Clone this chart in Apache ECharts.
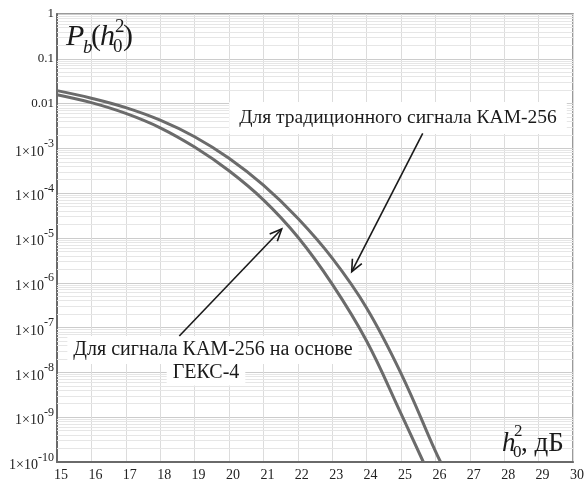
<!DOCTYPE html>
<html><head><meta charset="utf-8">
<script src="https://cdn.jsdelivr.net/npm/echarts@6/dist/echarts.min.js"></script>
<style>html,body{margin:0;padding:0;background:#fff}#c{width:587px;height:482px}</style>
</head><body><div id="c"></div>
<script>
// ---- data ----
const snrQam = [15, 16, 17, 18, 19, 20, 21, 22, 23, 24, 25, 26, 26.15];
const pbQam256 = [1.95e-2, 1.32e-2, 8.13e-3, 4.27e-3, 1.82e-3, 6.03e-4, 1.51e-4, 2.75e-5, 3.55e-6, 2.75e-7, 9.55e-9, 1.74e-10, 1e-10];
const snrHex = [15, 16, 17, 18, 19, 20, 21, 22, 23, 24, 25, 25.65];
const pbHex4 = [1.58e-2, 1.05e-2, 6.03e-3, 2.88e-3, 1.07e-3, 3.16e-4, 7.08e-5, 1.05e-5, 9.33e-7, 5.01e-8, 1.20e-9, 1e-10];
const xMin = 15, xMax = 30, xStep = 1;
const yMin = 1e-10, yMax = 1;
const yTickLabels = {0: '1', '-1': '0.1', '-2': '0.01'};
const minorMantissas = [2, 3, 4, 5, 6, 7, 8, 9];
const labelQam = 'Для традиционного сигнала КАМ-256';
const labelHex1 = 'Для сигнала КАМ-256 на основе';
const labelHex2 = 'ГЕКС-4';

const SERIF = 'Liberation Serif';
const zip = (xs, ys) => xs.map((x, i) => [x, ys[i]]);

// minor log grid positions (exponent space)
const minorExp = [];
for (let e = -10; e < 0; e++) minorMantissas.forEach(m => minorExp.push(e + Math.log10(m)));

function arrow(ax, ay, tx, ty) {
  const dx = tx - ax, dy = ty - ay, L = Math.hypot(dx, dy);
  const ux = dx / L, uy = dy / L, len = 13, a = 24 * Math.PI / 180;
  const w = s => [tx - len * (ux * Math.cos(a) - s * uy * Math.sin(a)),
                  ty - len * (uy * Math.cos(a) + s * ux * Math.sin(a))];
  return [
    {type: 'line', shape: {x1: ax, y1: ay, x2: tx, y2: ty}, style: {stroke: '#1a1a1a', lineWidth: 1.6}, z: 100},
    {type: 'polyline', shape: {points: [w(1), [tx, ty], w(-1)]}, style: {stroke: '#1a1a1a', lineWidth: 1.6, fill: null}, z: 100}
  ];
}
function txt(x, y, s, size, italic, extra) {
  return {type: 'text', z: 100, style: Object.assign({
    x: x, y: y, text: s, fontSize: size, fontFamily: SERIF, fontStyle: italic ? 'italic' : 'normal',
    fill: '#1a1a1a', verticalAlign: 'middle', align: 'left'}, extra || {})};
}

const chart = echarts.init(document.getElementById('c'), null, {renderer: 'canvas'});
chart.setOption({
  animation: false,
  backgroundColor: '#fff',
  textStyle: {fontFamily: SERIF},
  grid: {left: 57, right: 9, top: 14, bottom: 19, show: true, borderColor: '#7a7a7a', borderWidth: 1.5, backgroundColor: 'transparent'},
  xAxis: {
    type: 'value', min: xMin, max: xMax, interval: xStep,
    axisLine: {show: true, onZero: false, lineStyle: {color: '#6a6a6a', width: 2}},
    axisTick: {show: false},
    axisLabel: {margin: 6, color: '#222', fontFamily: SERIF, fontSize: 14, padding: [0, 0, 0, 8]},
    splitLine: {show: true, lineStyle: {color: '#dcdcdc', width: 1}}
  },
  yAxis: [{
    type: 'log', logBase: 10, min: yMin, max: yMax, interval: 1, splitNumber: 10,
    axisLine: {show: true, lineStyle: {color: '#6a6a6a', width: 2}},
    axisTick: {show: false},
    axisLabel: {
      margin: 3, color: '#222', fontFamily: SERIF, fontSize: 13,
      formatter: v => {
        const e = Math.round(Math.log10(v));
        if (yTickLabels[e] !== undefined) return '{n|' + yTickLabels[e] + '}';
        return '{a|1×10}{s|' + e + '}';
      },
      rich: {
        n: {fontFamily: SERIF, fontSize: 13, color: '#222'},
        a: {fontFamily: SERIF, fontSize: 14, color: '#222', verticalAlign: 'bottom', lineHeight: 21},
        s: {fontFamily: SERIF, fontSize: 12, color: '#222', verticalAlign: 'top', lineHeight: 12}
      }
    },
    splitLine: {show: true, lineStyle: {color: '#cccccc', width: 1}}
  }, {
    type: 'value', min: -10, max: 0, show: false, splitLine: {show: false}
  }],
  series: [
    {
      type: 'line', yAxisIndex: 1, data: [], silent: true, z: 1,
      markLine: {
        silent: true, symbol: 'none', animation: false, precision: 6,
        label: {show: false},
        lineStyle: {color: '#e6e6e6', width: 1, type: 'solid'},
        data: minorExp.map(v => ({yAxis: v}))
      }
    },
    {
      name: labelQam, type: 'line', data: zip(snrQam, pbQam256), smooth: 0.4,
      showSymbol: false, z: 5, lineStyle: {color: '#6b6b6b', width: 3}
    },
    {
      name: labelHex1 + ' ' + labelHex2, type: 'line', data: zip(snrHex, pbHex4), smooth: 0.4,
      showSymbol: false, z: 5, lineStyle: {color: '#6b6b6b', width: 3}
    }
  ],
  graphic: [
    // Y title P_b(h_0^2)
    txt(66, 37, 'P', 30, true),
    txt(83, 48, 'b', 19, true),
    txt(91, 37, '(', 30, false),
    txt(100, 37, 'h', 30, true),
    txt(115, 27, '2', 19, false),
    txt(113, 47, '0', 19, false),
    txt(123, 37, ')', 30, false),
    // X title h_0^2, дБ
    txt(502, 444, 'h', 27, true),
    txt(514, 432, '2', 17, false),
    txt(513, 453, '0', 17, false),
    txt(521, 444, ', дБ', 27, false),
    // annotations
    txt(398, 118, labelQam, 19.5, false, {align: 'center', backgroundColor: '#fff', padding: [5, 10, 7, 10]}),
    txt(213, 350, labelHex1, 20, false, {align: 'center', backgroundColor: '#fff', padding: [4, 6, 4, 6]}),
    txt(206, 373, labelHex2, 20, false, {align: 'center', backgroundColor: '#fff', padding: [2, 6, 3, 6]}),
    ...arrow(422.7, 133.3, 351.7, 271.7),
    ...arrow(179.3, 336, 281.7, 229)
  ]
});
</script>
</body></html>
